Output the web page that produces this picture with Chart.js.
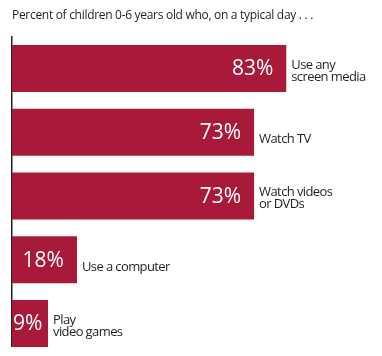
<!DOCTYPE html>
<html>
<head>
<meta charset="utf-8">
<script src="https://cdn.jsdelivr.net/npm/chart.js@4.4.1/dist/chart.umd.min.js"></script>
<style>
html,body{margin:0;padding:0;background:#ffffff;}
canvas{display:block;}
</style>
</head>
<body>
<canvas id="c" width="382" height="356"></canvas>
<script>
// ---- data ----
const titleText = 'Percent of children 0-6 years old who, on a typical day . . .';
const categories = [
  ['Use any', 'screen media'],
  ['Watch TV'],
  ['Watch videos', 'or DVDs'],
  ['Use a computer'],
  ['Play', 'video games']
];
const values = [83, 73, 73, 18, 9];
const valueLabels = ['83%', '73%', '73%', '18%', '9%'];

// ---- style ----
const FONT = '"Open Sans", "Noto Sans", sans-serif';
const BAR_COLOR = '#A8193A';
const TEXT_COLOR = '#231f20';
const AXIS_MIN = -2.18;

const spacingPlugin = {
  id: 'titleSpacing',
  beforeDraw(chart) { chart.ctx.letterSpacing = '-0.3px'; },
  beforeDatasetsDraw(chart) { chart.ctx.letterSpacing = '0px'; }
};

const axisLinePlugin = {
  id: 'axisLine',
  beforeDatasetsDraw(chart) {
    const ctx = chart.ctx;
    const meta = chart.getDatasetMeta(0);
    const last = meta.data[meta.data.length - 1];
    const bottom = last.y + last.height / 2;
    ctx.save();
    ctx.strokeStyle = TEXT_COLOR;
    ctx.lineWidth = 1.5;
    ctx.beginPath();
    ctx.moveTo(chart.chartArea.left - 0.25, chart.chartArea.top - 0.6);
    ctx.lineTo(chart.chartArea.left - 0.25, bottom);
    ctx.stroke();
    ctx.restore();
  }
};

const labelPlugin = {
  id: 'barLabels',
  afterDatasetsDraw(chart) {
    const ctx = chart.ctx;
    const meta = chart.getDatasetMeta(0);
    ctx.save();
    meta.data.forEach((el, i) => {
      // value inside bar
      ctx.letterSpacing = '0px';
      ctx.font = '21px ' + FONT;
      ctx.fillStyle = '#ffffff';
      ctx.textAlign = 'right';
      ctx.textBaseline = 'middle';
      const tw = ctx.measureText(valueLabels[i]).width;
      const xr = Math.max(el.x - 13, chart.chartArea.left + 1 + tw);
      ctx.fillText(valueLabels[i], xr, el.y + 1);
      // category label to the right
      const lines = categories[i];
      ctx.letterSpacing = '-0.6px';
      ctx.font = '13px ' + FONT;
      ctx.fillStyle = TEXT_COLOR;
      ctx.textAlign = 'left';
      ctx.textBaseline = 'alphabetic';
      const first = el.y + 10.8 - (lines.length - 1) * 10.3;
      lines.forEach((ln, k) => {
        ctx.fillText(ln, el.x + 5, first + k * 12);
      });
    });
    ctx.restore();
  }
};

new Chart(document.getElementById('c'), {
  type: 'bar',
  data: {
    labels: categories,
    datasets: [{
      data: values,
      base: AXIS_MIN,
      backgroundColor: BAR_COLOR,
      borderWidth: 0,
      barPercentage: 0.737,
      categoryPercentage: 1
    }]
  },
  options: {
    indexAxis: 'y',
    responsive: false,
    animation: false,
    devicePixelRatio: 1,
    layout: { padding: { left: 12, right: 41, top: 0, bottom: 0.65 } },
    scales: {
      x: { display: false, min: AXIS_MIN, max: 100 },
      y: { display: false }
    },
    plugins: {
      legend: { display: false },
      tooltip: { enabled: false },
      title: {
        display: true,
        text: titleText,
        align: 'start',
        color: TEXT_COLOR,
        font: { family: FONT, size: 12, weight: 'normal' },
        padding: { top: 8.3, bottom: 13.9 }
      }
    }
  },
  plugins: [spacingPlugin, axisLinePlugin, labelPlugin]
});
</script>
</body>
</html>
